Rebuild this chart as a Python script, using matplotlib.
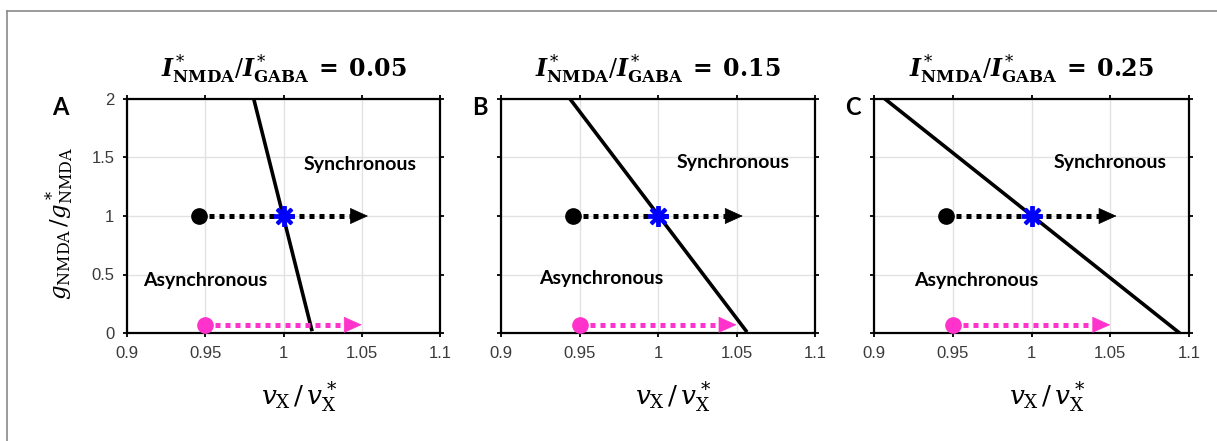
import numpy as np
import matplotlib.pyplot as plt
from matplotlib.lines import Line2D

plt.rcParams['mathtext.fontset'] = 'dejavuserif'

# ratio of NMDA to GABA currents, one panel each
ratios = ['0.05', '0.15', '0.25']
panel_letters = ['A', 'B', 'C']

# boundary between asynchronous and synchronous regimes (v at g = top and g = bottom)
boundary_g = [[2.0, 0.03], [2.0, 0.02], [2.0, 0.0]]
boundary_v = [[0.981, 1.018], [0.944, 1.056], [0.907, 1.094]]

# black trajectory at nominal g, pink trajectory at g near zero
black_start = (0.946, 1.0)
black_end = (1.054, 1.0)
pink_start = (0.950, 0.07)
pink_end = (1.050, 0.07)
critical_point = (1.0, 1.0)

x_ticks = [0.9, 0.95, 1.0, 1.05, 1.1]
x_ticklabels = ['0.9', '0.95', '1', '1.05', '1.1']
y_ticks = [0, 0.5, 1, 1.5, 2]
y_ticklabels = ['0', '0.5', '1', '1.5', '2']

sync_pos = [(1.049, 1.44), (1.048, 1.46), (1.050, 1.46)]
async_pos = [(0.950, 0.45), (0.964, 0.47), (0.965, 0.45)]

pink = '#ff33cc'

fig = plt.figure(figsize=(12.17, 4.41), dpi=100)
W, H = 1217, 441
lefts = [127, 501, 874]
widths = [313, 314, 315]
top_px, bot_px = 99, 333

# frame around the figure (top and left edges)
fig.add_artist(Line2D([7 / W, 1.0], [1 - 11 / H, 1 - 11 / H], color='#8a8a8a', lw=1.2))
fig.add_artist(Line2D([7 / W, 7 / W], [0, 1 - 11 / H], color='#8a8a8a', lw=1.2))


def draw_arrow(ax, start, end, color):
    head = 0.0105
    ax.plot([start[0], end[0] - head], [start[1], end[1]], color=color, lw=3.6,
            linestyle=(0, (1, 1)), solid_capstyle='butt', dash_capstyle='butt', zorder=3)
    ax.annotate('', xy=end, xytext=(end[0] - head, end[1]),
                arrowprops=dict(arrowstyle='-|>,head_length=0.75,head_width=0.34',
                                color=color, lw=0.5, mutation_scale=16,
                                shrinkA=0, shrinkB=0), zorder=4)
    ax.plot(*start, 'o', color=color, markersize=11, zorder=5)


for i in range(3):
    ax = fig.add_axes([lefts[i] / W, 1 - bot_px / H, widths[i] / W, (bot_px - top_px) / H])
    ax.set_xlim(0.9, 1.1)
    ax.set_ylim(0, 2)
    ax.set_xticks(x_ticks)
    ax.set_xticklabels(x_ticklabels)
    ax.set_yticks(y_ticks)
    if i == 0:
        ax.set_yticklabels(y_ticklabels)
    else:
        ax.set_yticklabels([])
    ax.tick_params(direction='out', length=3, width=1.3, top=True, right=True,
                   labelsize=12, labelcolor='#3a3a3a', pad=6)
    for lab in ax.get_xticklabels() + ax.get_yticklabels():
        lab.set_family('Liberation Sans')
    for s in ax.spines.values():
        s.set_linewidth(1.6)
    ax.grid(True, color='#e2e2e2', lw=1)
    ax.set_axisbelow(True)

    ax.plot(boundary_v[i], boundary_g[i], color='black', lw=2.6, zorder=2)

    draw_arrow(ax, pink_start, pink_end, pink)
    draw_arrow(ax, black_start, black_end, 'black')
    ax.plot(*critical_point, marker=(8, 2, 0), color='#0000ff', markersize=15,
            markeredgewidth=2.8, zorder=6)

    ax.text(*sync_pos[i], 'Synchronous', ha='center', va='center', fontsize=14,
            fontweight='bold', family='Lato')
    ax.text(*async_pos[i], 'Asynchronous', ha='center', va='center', fontsize=14,
            fontweight='bold', family='Lato')

    ax.text(0.5, 1.13, r'$\mathbfit{I}^*_{\mathbf{NMDA}}/\mathbfit{I}^*_{\mathbf{GABA}}\;\mathbf{=}\;\mathbf{'
            + ratios[i] + '}$', transform=ax.transAxes, ha='center', va='center', fontsize=17)

    lx = -0.214 if i == 0 else -0.067
    ax.text(lx, 0.962, panel_letters[i], transform=ax.transAxes, ha='center', va='center',
            fontsize=17, fontweight='bold', family='Lato')

    ax.text(0.55, -0.27, r'$v_{\mathrm{X}}\,/\,v^*_{\mathrm{X}}$', transform=ax.transAxes,
            ha='center', va='center', fontsize=19)
    if i == 0:
        ax.text(-0.214, 0.466, r'$g_{\mathrm{NMDA}}\,/g^*_{\mathrm{NMDA}}$', transform=ax.transAxes,
                ha='center', va='center', fontsize=16.5, rotation=90)

fig.savefig('out.png', dpi=100)
